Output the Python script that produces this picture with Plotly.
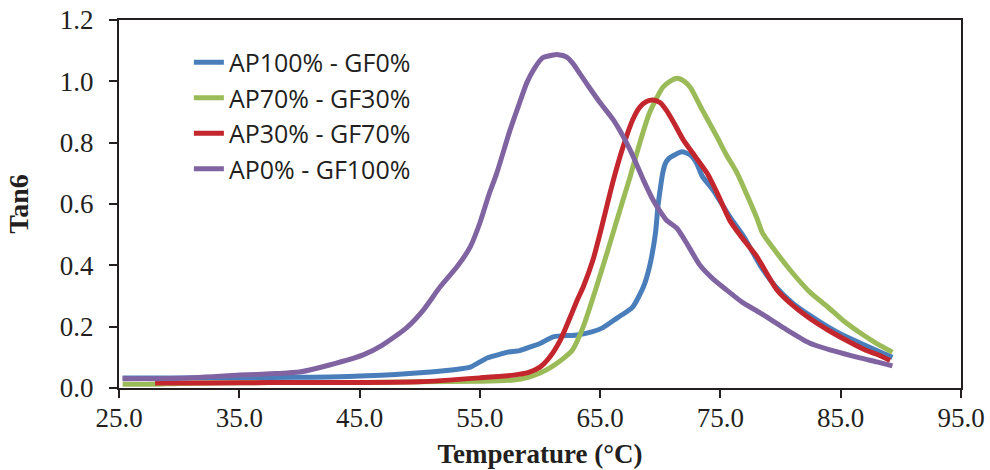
import plotly.graph_objects as go

names = ["AP100% - GF0%", "AP70% - GF30%", "AP30% - GF70%", "AP0% - GF100%"]
colors = ["#4A7EBB", "#9BBB59", "#C3262C", "#8064A2"]

x_ap100 = [25.3, 30, 35, 40, 42.5, 45.6, 48, 50.9, 53, 54.2, 55.0, 55.6, 56.5, 57.3, 58.3, 59.2, 60.0, 61.1,
           63.1, 64.3, 65.2, 66.4, 67.7, 68.6, 69.1, 69.6, 69.8, 70.0, 70.2, 70.4, 70.7, 71.1,
           71.8, 72.5, 73.0, 73.5, 74.4, 75.8, 77.0, 78.3, 79.5, 81.0, 82.5, 83.9, 85.2, 86.6, 88.0, 89.3]
y_ap100 = [0.033, 0.033, 0.034, 0.035, 0.036, 0.040, 0.044, 0.052, 0.060, 0.068, 0.085, 0.098, 0.108, 0.117,
           0.122, 0.134, 0.145, 0.167, 0.173, 0.183, 0.196, 0.228, 0.264, 0.33, 0.395, 0.505, 0.59, 0.65,
           0.70, 0.73, 0.748, 0.758, 0.77, 0.76, 0.735, 0.69, 0.645, 0.557, 0.49, 0.40,
           0.335, 0.277, 0.235, 0.20, 0.172, 0.147, 0.122, 0.10]

x_ap70 = [25.3, 28, 30, 35, 40, 45, 50, 55, 57.8, 59, 60.0, 61, 61.9, 62.7, 63.6, 64.7, 65.8,
          66.9, 67.5, 68.3, 69.1, 70.2, 70.8, 71.4, 72.0, 72.5, 73.5, 74.7, 75.5, 76.4, 77.2, 78.0, 78.5,
          79.5, 81.0, 82.5, 83.9, 85.2, 86.6, 88.0, 89.3]
y_ap70 = [0.012, 0.012, 0.015, 0.017, 0.018, 0.018, 0.02, 0.022, 0.026, 0.035, 0.049, 0.07, 0.095, 0.124,
          0.20, 0.33, 0.47, 0.613, 0.69, 0.80, 0.897, 0.98, 1.0, 1.01, 1.0, 0.98, 0.906, 0.82,
          0.76, 0.70, 0.63, 0.557, 0.505, 0.45, 0.375, 0.31, 0.265, 0.22, 0.18, 0.145, 0.117]

x_ap30 = [28.0, 30, 35, 40, 45, 50, 55, 57.8, 59.0, 60.0, 60.8, 61.7, 62.5, 63.1, 63.6, 64.4, 65.0, 65.6,
          66.1, 66.9, 67.7, 68.3, 68.9, 69.4, 70.0, 70.5, 71.2, 71.9, 72.9, 73.9, 74.8, 75.8, 76.8, 78.0,
          79.7, 81.0, 82.5, 83.9, 85.5, 87.0, 88.0, 89.1]
y_ap30 = [0.016, 0.016, 0.017, 0.018, 0.018, 0.02, 0.033, 0.042, 0.050, 0.068, 0.10, 0.157, 0.23, 0.287,
          0.33, 0.417, 0.505, 0.60, 0.678, 0.786, 0.874, 0.916, 0.935, 0.939, 0.93, 0.906, 0.86, 0.81,
          0.755, 0.70, 0.63, 0.545, 0.49, 0.43, 0.32, 0.27, 0.225, 0.19, 0.155, 0.125, 0.11, 0.09]

x_ap0 = [25.3, 30, 35, 38, 40, 42.5, 45.3, 46.9, 48.9, 50.3, 51.7, 53.1, 54.2, 55.0, 55.8, 56.4, 57.5, 58.3,
         58.9, 59.5, 60.2, 61.0, 61.5, 62.2, 62.7, 63.4, 64.1, 65.0, 66.1, 67.5, 68.6, 69.4, 70.0, 70.5,
         71.4, 72.3, 73.3, 74.4, 75.5, 76.8, 78.3, 80.3, 82.4, 84.5, 86.6, 88.0, 89.3]
y_ap0 = [0.03, 0.032, 0.042, 0.047, 0.052, 0.075, 0.108, 0.14, 0.196, 0.254, 0.33, 0.395, 0.46, 0.538, 0.636,
         0.70, 0.84, 0.93, 0.995, 1.04, 1.076, 1.085, 1.087, 1.08, 1.06, 1.02, 0.98, 0.93, 0.874, 0.776,
         0.678, 0.613, 0.575, 0.548, 0.52, 0.465, 0.40, 0.355, 0.32, 0.28, 0.245, 0.195, 0.147, 0.12, 0.098,
         0.085, 0.072]

x_ticks = [25, 35, 45, 55, 65, 75, 85, 95]
x_tick_labels = ["25.0", "35.0", "45.0", "55.0", "65.0", "75.0", "85.0", "95.0"]
y_ticks = [0.0, 0.2, 0.4, 0.6, 0.8, 1.0, 1.2]
y_tick_labels = ["0.0", "0.2", "0.4", "0.6", "0.8", "1.0", "1.2"]

series = [(x_ap100, y_ap100), (x_ap70, y_ap70), (x_ap30, y_ap30), (x_ap0, y_ap0)]

fig = go.Figure()
for (xs, ys), name, color in zip(series, names, colors):
    fig.add_trace(go.Scatter(x=xs, y=ys, mode="lines", name=name, legendgroup=name,
                             line=dict(color=color, width=5, shape="spline", smoothing=0.6)))

serif = "Liberation Serif, Times New Roman, serif"
axis_common = dict(showline=True, linecolor="#231F20", linewidth=2, mirror=True, ticks="outside",
                   ticklen=8, tickwidth=2, tickcolor="#231F20", showgrid=False, zeroline=False,
                   automargin=False,
                   tickfont=dict(family=serif, size=27, color="#231F20"))

fig.update_layout(
    width=990, height=470,
    margin=dict(l=119, r=29, t=20, b=82),
    plot_bgcolor="white", paper_bgcolor="white",
    xaxis=dict(range=[25, 95], tickmode="array", tickvals=x_ticks, ticktext=x_tick_labels,
               ticklabelstandoff=-3,
               title=dict(text="<b>Temperature (°C)</b>", font=dict(family=serif, size=27, color="#231F20"),
                          standoff=12),
               **axis_common),
    yaxis=dict(range=[0, 1.2], tickmode="array", tickvals=y_ticks, ticktext=y_tick_labels,
               ticklabelstandoff=10,
               title=dict(text="<b>Tan6</b>", font=dict(family=serif, size=28, color="#231F20"),
                          standoff=23),
               **axis_common),
    legend=dict(x=0.083, y=0.947, xanchor="left", yanchor="top", bgcolor="rgba(0,0,0,0)",
                font=dict(family="Open Sans, sans-serif", size=25, color="#231F20"),
                tracegroupgap=0, itemwidth=30),
    showlegend=True,
)

fig.write_html("out.html", config={"displayModeBar": False},
               post_script="document.body.style.margin='0';document.body.style.overflow='hidden';")
